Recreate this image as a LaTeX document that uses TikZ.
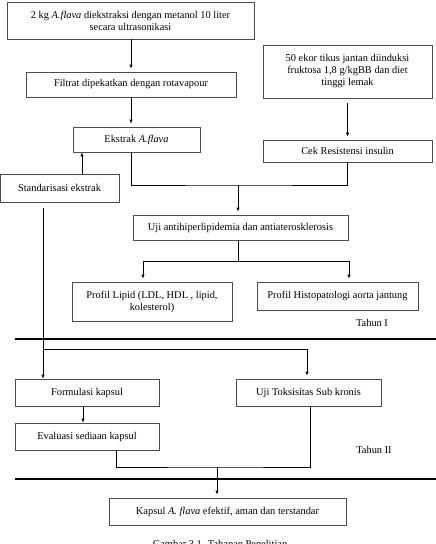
\documentclass[tikz,border=0pt]{standalone}
\usepackage{fontspec}
\setmainfont{Liberation Serif}
\usetikzlibrary{arrows.meta}

\begin{document}
\begin{tikzpicture}
                [x=1pt, y=-1pt, >={Latex[length=4pt,width=3.5pt]},
                    box/.style={draw=black!70, line width=0.7pt, inner sep=0pt, align=center},
                    garis/.style={line width=0.7pt},
                    panah/.style={garis, ->, shorten >=3pt},
                    batas/.style={line width=2.4pt},
                ]
                \tikzstyle{every node}=[font=\fontsize{10.4}{12}\selectfont]
                \useasboundingbox (0,0) rectangle (436,544);
                \node[box, minimum width=247pt, minimum height=37pt] (ekstraksi) at (130.5,20.5)
                    {2 kg \textit{A.flava} diekstraksi dengan metanol 10 liter\\secara ultrasonikasi};
                \node[box, minimum width=210pt, minimum height=25pt] (filtrat) at (131,84.5)
                    {Filtrat dipekatkan dengan rotavapour};
                \node[box, minimum width=127pt, minimum height=25pt] (ekstrak) at (136.5,139.5)
                    {Ekstrak \textit{A.flava}};
                \node[box, minimum width=119pt, minimum height=28pt] (standar) at (59.5,188)
                    {Standarisasi ekstrak};
                \node[box, minimum width=169pt, minimum height=53pt] (tikus) at (347.5,71.5)
                    {50 ekor tikus jantan diinduksi\\fruktosa 1,8 g/kgBB dan diet\\tinggi lemak};
                \node[box, minimum width=169pt, minimum height=22pt] (cek) at (347.5,151)
                    {Cek Resistensi insulin};
                \node[box, minimum width=215pt, minimum height=25pt] (uji) at (240.5,227.5)
                    {Uji antihiperlipidemia dan antiaterosklerosis};
                \node[box, minimum width=160pt, minimum height=39pt] (lipid) at (152,301.5)
                    {Profil Lipid (LDL, HDL , lipid,\\kolesterol)};
                \node[box, minimum width=161pt, minimum height=28pt] (histo) at (337.5,296)
                    {Profil Histopatologi aorta jantung};
                \node (tahun1) at (372,323) {Tahun I};
                \node[box, minimum width=144pt, minimum height=27pt] (formulasi) at (87,392.5)
                    {Formulasi kapsul};
                \node[box, minimum width=145pt, minimum height=27pt] (toksisitas) at (308.5,392.5)
                    {Uji Toksisitas Sub kronis};
                \node[box, minimum width=144pt, minimum height=27pt] (evaluasi) at (87,436.5)
                    {Evaluasi sediaan kapsul};
                \node (tahun2) at (374,450) {Tahun II};
                \node[box, minimum width=237pt, minimum height=27pt] (kapsul) at (227.5,511.5)
                    {Kapsul \textit{A. flava} efektif, aman dan terstandar};
                \node[anchor=north] (judul) at (220,537) {Gambar 3.1. Tahapan Penelitian};

                \coordinate (m1) at (238,185);
                \coordinate (m2) at (238,261);
                \coordinate (m2l) at (143,261);
                \coordinate (m2r) at (349,261);
                \coordinate (m3) at (43,349);
                \coordinate (m4) at (217,467);

                \draw[panah] (ekstraksi.south -| filtrat.south) -- (filtrat.north);
                \draw[panah] (filtrat.south) -- (filtrat.south |- ekstrak.north);
                \draw[garis, ->] ([xshift=-54.5pt]ekstrak.south |- standar.north) -- ([xshift=-54.5pt]ekstrak.south);
                \draw[panah] ([yshift=-5pt]tikus.south) -- (cek.north);
                \draw[garis] (filtrat.south |- ekstrak.south) |- (m1) -| (cek.south);
                \draw[panah] (m1) -- (m1 |- uji.north);
                \draw[garis] (uji.south -| m2) -- (m2);
                \draw[garis] (m2l) -- (m2r);
                \draw[panah] (m2l) -- (m2l |- lipid.north);
                \draw[panah] (m2r) -- (m2r |- histo.north);
                \draw[batas] (15,339) -- (436,339);
                \draw[garis, ->] ([yshift=-6pt]m3 |- standar.south) -- (m3 |- formulasi.north);
                \draw[panah] (m3) -| ([xshift=-1.5pt]toksisitas.north);
                \draw[garis, ->] ([xshift=-4pt]formulasi.south) -- ([xshift=-4pt]evaluasi.north);
                \draw[garis] ([xshift=29pt]evaluasi.south) |- (m4) -| ([xshift=1.5pt]toksisitas.south);
                \draw[batas] (15,479) -- (436,479);
                \draw[panah] (m4) -- (m4 |- kapsul.north);
\end{tikzpicture}
\end{document}
